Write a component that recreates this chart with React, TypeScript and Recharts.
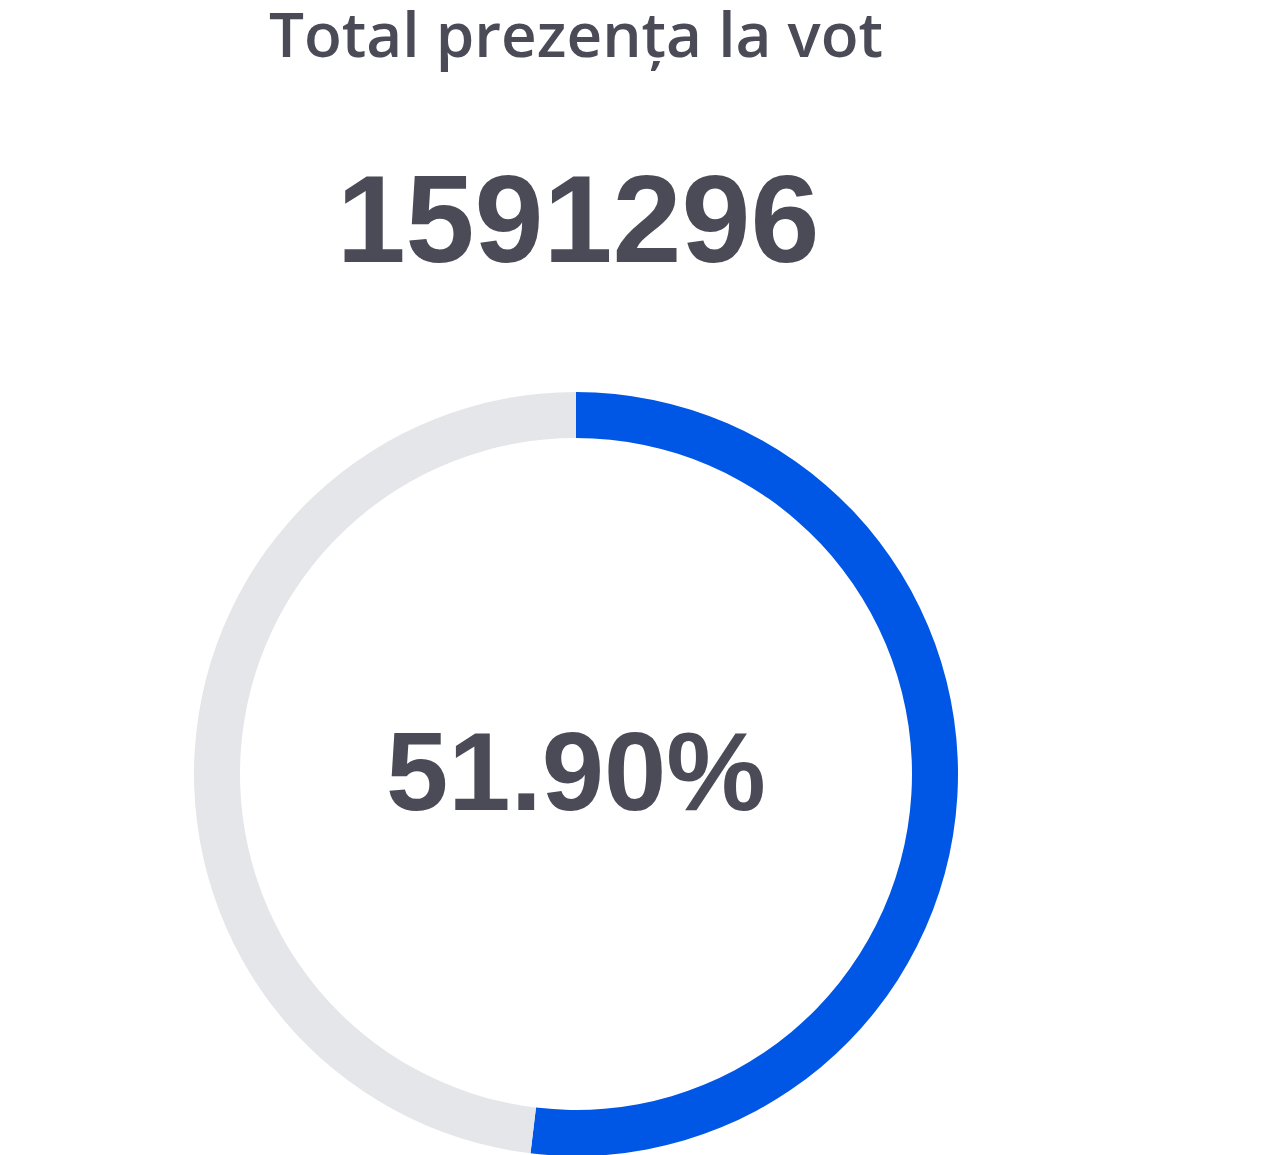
import { PieChart, Pie, Cell } from "recharts";

const TITLE = "Total prezența la vot";
const TOTAL_VOTERS = 1591296;

const segments = ["Prezență", "Rest"];
const percents = [51.9, 48.1];
const colors = ["#0057e6", "#e5e6e9"];

const data = segments.map((name, i) => ({ name, value: percents[i] }));

const textColor = "#4a4b57";

export default function App() {
  return (
    <div style={{ position: "absolute", left: 0, top: 0, width: 1280, height: 1155, background: "#fff" }}>
      <PieChart width={1280} height={1155} margin={{ top: 0, right: 0, bottom: 0, left: 0 }}>
        <text
          x={576}
          y={57}
          textAnchor="middle"
          fill={textColor}
          style={{ fontFamily: "'Open Sans', sans-serif", fontSize: 62, fontWeight: 600 }}
        >
          {TITLE}
        </text>
        <text
          x={578}
          y={262}
          textAnchor="middle"
          fill={textColor}
          style={{ fontFamily: "'Liberation Sans', Arial, sans-serif", fontSize: 124, fontWeight: 700 }}
        >
          {TOTAL_VOTERS}
        </text>
        <Pie
          data={data}
          dataKey="value"
          nameKey="name"
          cx={576}
          cy={774}
          innerRadius={336}
          outerRadius={382}
          startAngle={90}
          endAngle={-270}
          stroke="none"
          isAnimationActive={false}
        >
          {data.map((d, i) => (
            <Cell key={d.name} fill={colors[i]} />
          ))}
        </Pie>
        <text
          x={576}
          y={810}
          textAnchor="middle"
          fill={textColor}
          style={{ fontFamily: "'Liberation Sans', Arial, sans-serif", fontSize: 112, fontWeight: 700 }}
        >
          {percents[0].toFixed(2)}%
        </text>
      </PieChart>
    </div>
  );
}
